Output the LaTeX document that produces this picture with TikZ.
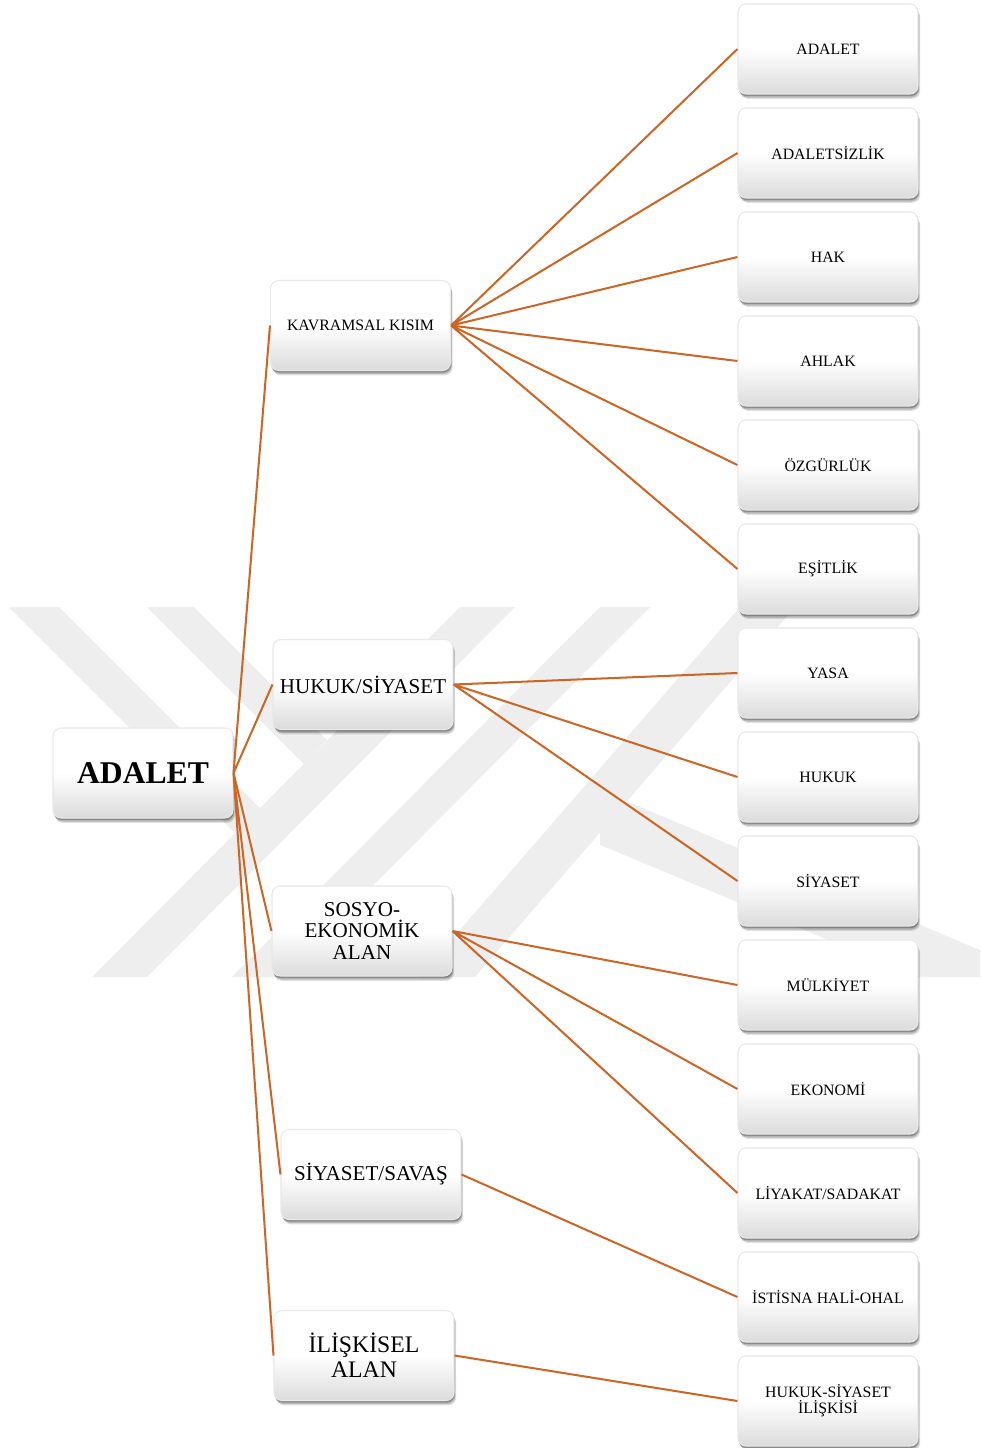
\documentclass[tikz,border=0pt]{standalone}
\usepackage{fontspec}
\setmainfont{Liberation Serif}
\usepackage{xcolor}
\usetikzlibrary{shadows}
\definecolor{turuncu}{RGB}{204,102,38}
\definecolor{filigran}{RGB}{238,238,238}
\tikzset{
	kutu/.style={rounded corners=1.6mm,minimum width=3.6cm,minimum height=1.8cm,inner sep=1pt,align=center,
		draw=black!9,line width=0.6pt,
		top color=white,bottom color=black!14,middle color=white,
		general shadow={shadow xshift=1.2pt,shadow yshift=-2.8pt,fill=black,opacity=0.12},
		general shadow={shadow xshift=0.8pt,shadow yshift=-2pt,fill=black,opacity=0.18},
		general shadow={shadow xshift=0.4pt,shadow yshift=-1.2pt,fill=black,opacity=0.25},
		font=\fontsize{9}{10}\selectfont},
	dal/.style={draw=turuncu,line width=1.15pt}
}

\begin{document}
\begin{tikzpicture}
	\useasboundingbox (0,0) rectangle (19.6,-28.96);
	\fill[filigran] (0.18,-12.14)--(1.18,-12.14)--(5.20,-16.16)--(4.70,-16.66)--cycle;
	\fill[filigran] (2.94,-12.14)--(3.88,-12.14)--(6.54,-14.80)--(6.08,-15.28)--cycle;
	\fill[filigran] (9.20,-12.14)--(10.30,-12.14)--(2.94,-19.54)--(1.84,-19.54)--cycle;
	\fill[filigran] (12.00,-12.14)--(13.00,-12.14)--(5.64,-19.54)--(4.64,-19.54)--cycle;
	\fill[filigran] (14.80,-12.14)--(15.90,-12.14)--(9.50,-19.54)--(8.38,-19.54)--cycle;
	\fill[filigran] (12.00,-15.80)--(19.60,-19.00)--(19.60,-19.54)--(18.34,-19.54)--(12.00,-16.90)--cycle;
	\node[kutu,font=\bfseries\fontsize{18}{20}\selectfont] (adalet) at (2.86,-15.46) {ADALET};
	\node[kutu] (kavramsal) at (7.21,-6.51) {KAVRAMSAL KISIM};
	\node[kutu,font=\fontsize{12}{13}\selectfont] (hukuksiyaset) at (7.26,-13.69) {HUKUK/SİYASET};
	\node[kutu,font=\fontsize{12}{12.5}\selectfont] (sosyo) at (7.24,-18.62) {SOSYO-\\EKONOMİK\\ALAN};
	\node[kutu,font=\fontsize{12}{13}\selectfont] (siyasetsavas) at (7.42,-23.49) {SİYASET/SAVAŞ};
	\node[kutu,font=\fontsize{13.5}{14.2}\selectfont] (iliskisel) at (7.28,-27.11) {İLİŞKİSEL\\ALAN};
	\node[kutu] (kadalet) at (16.56,-0.98) {ADALET};
	\node[kutu] (adaletsizlik) at (16.56,-3.06) {ADALETSİZLİK};
	\node[kutu] (hak) at (16.56,-5.14) {HAK};
	\node[kutu] (ahlak) at (16.56,-7.22) {AHLAK};
	\node[kutu] (ozgurluk) at (16.56,-9.30) {ÖZGÜRLÜK};
	\node[kutu] (esitlik) at (16.56,-11.38) {EŞİTLİK};
	\node[kutu] (yasa) at (16.56,-13.46) {YASA};
	\node[kutu] (hukuk) at (16.56,-15.54) {HUKUK};
	\node[kutu] (siyaset) at (16.56,-17.62) {SİYASET};
	\node[kutu] (mulkiyet) at (16.56,-19.70) {MÜLKİYET};
	\node[kutu] (ekonomi) at (16.56,-21.78) {EKONOMİ};
	\node[kutu] (liyakat) at (16.56,-23.86) {LİYAKAT/SADAKAT};
	\node[kutu] (istisna) at (16.56,-25.94) {İSTİSNA HALİ-OHAL};
	\node[kutu,font=\fontsize{9}{9}\selectfont] (iliski) at (16.56,-28.02) {HUKUK-SİYASET\\İLİŞKİSİ};
	\draw[dal] (adalet.east)--(kavramsal.west) (adalet.east)--(hukuksiyaset.west) (adalet.east)--(sosyo.west);
	\draw[dal] (adalet.east)--(siyasetsavas.west) (adalet.east)--(iliskisel.west);
	\draw[dal] (kavramsal.east)--(kadalet.west) (kavramsal.east)--(adaletsizlik.west) (kavramsal.east)--(hak.west);
	\draw[dal] (kavramsal.east)--(ahlak.west) (kavramsal.east)--(ozgurluk.west) (kavramsal.east)--(esitlik.west);
	\draw[dal] (hukuksiyaset.east)--(yasa.west) (hukuksiyaset.east)--(hukuk.west) (hukuksiyaset.east)--(siyaset.west);
	\draw[dal] (sosyo.east)--(mulkiyet.west) (sosyo.east)--(ekonomi.west) (sosyo.east)--(liyakat.west);
	\draw[dal] (siyasetsavas.east)--(istisna.west) (iliskisel.east)--(iliski.west);
\end{tikzpicture}
\end{document}
